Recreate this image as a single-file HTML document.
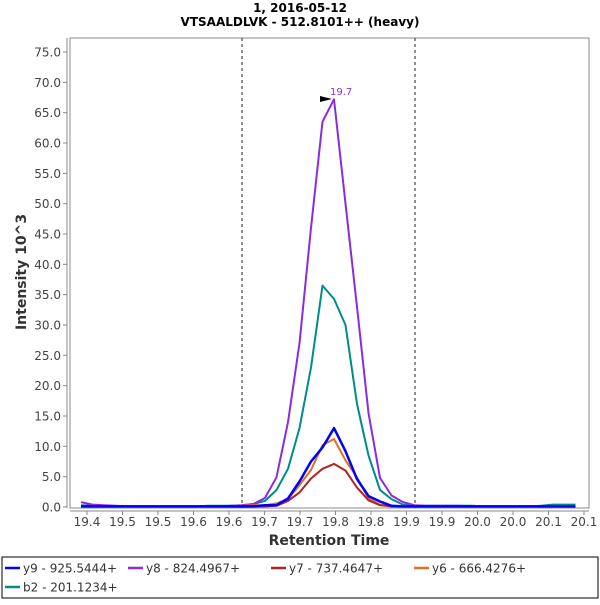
<!DOCTYPE html>
<html><head><meta charset="utf-8"><style>
body{margin:0;background:#fff;font-family:"Liberation Sans","DejaVu Sans",sans-serif;}
svg text{font-family:"DejaVu Sans","Liberation Sans",sans-serif;}
</style></head><body>
<svg id="chart" width="600" height="600" xmlns="http://www.w3.org/2000/svg">
<rect x="0" y="0" width="600" height="600" fill="#fff"/>
<text x="300" y="12" text-anchor="middle" font-size="12" font-weight="bold">1, 2016-05-12</text>
<text x="300" y="26" text-anchor="middle" font-size="12" font-weight="bold">VTSAALDLVK - 512.8101++ (heavy)</text>
<rect x="70" y="38" width="519" height="470" fill="#fff" stroke="#888" stroke-width="1"/>
<line x1="67" y1="38" x2="67" y2="508" stroke="#888"/>
<line x1="70" y1="511" x2="589" y2="511" stroke="#888"/>
<g id="yticks"></g><g id="xticks"></g>
<line x1="242" y1="38" x2="242" y2="508" stroke="#222" stroke-dasharray="3,3"/>
<line x1="415" y1="38" x2="415" y2="508" stroke="#222" stroke-dasharray="3,3"/>
<g id="series"></g>
<polygon points="320,96 332,99 320,102" fill="#000"/>
<text x="330" y="95" font-size="10" fill="#8a2be2">19.7</text>
<text transform="translate(26,272) rotate(-90)" text-anchor="middle" font-size="14" font-weight="bold" fill="#333">Intensity 10^3</text>
<text x="329" y="545" text-anchor="middle" font-size="14" font-weight="bold" fill="#333">Retention Time</text>
<rect x="2" y="557" width="596" height="41" fill="#fff" stroke="#000"/>
<g id="legend"></g>
</svg>
<script>
const yTicks=[0,5,10,15,20,25,30,35,40,45,50,55,60,65,70,75];
const xTickLabels=["19.4","19.5","19.5","19.6","19.6","19.7","19.7","19.8","19.8","19.9","19.9","20.0","20.0","20.1","20.1"];
const seriesNames=["y9 - 925.5444+","y8 - 824.4967+","y7 - 737.4647+","y6 - 666.4276+","b2 - 201.1234+"];
const seriesColors=["#0000ff","#8a2be2","#b22222","#e07020","#008b8b"];
const y9=[0.1,0.1,0.1,0.1,0.1,0.1,0.1,0.1,0.1,0.1,0.1,0.1,0.1,0.1,0.1,0.1,0.3,0.3,1.4,4.2,7.5,9.8,13,9.2,4.6,1.8,0.9,0.2,0.1,0.1,0.1,0.1,0.1,0.1,0.1,0.1,0.1,0.1,0.1,0.1,0.1,0.1,0.1,0.1];
const y8=[0.8,0.4,0.3,0.2,0.1,0.1,0.1,0.1,0.1,0.1,0.1,0.1,0.1,0.2,0.3,0.5,1.5,4.9,14,27,46,63.5,67.2,50,33,15.5,4.8,1.9,0.8,0.3,0.2,0.2,0.2,0.2,0.1,0.1,0.1,0.1,0.1,0.1,0.1,0.1,0.1,0.1];
const y7=[0.1,0.1,0.1,0.1,0.1,0.1,0.1,0.1,0.1,0.1,0.1,0.1,0.1,0.1,0.1,0.1,0.1,0.2,1.0,2.4,4.7,6.3,7.1,6.0,3.2,1.1,0.3,0.1,0.1,0.1,0.1,0.1,0.1,0.1,0.1,0.1,0.1,0.1,0.1,0.1,0.1,0.1,0.1,0.1];
const y6=[0.1,0.1,0.1,0.1,0.1,0.1,0.1,0.1,0.1,0.1,0.1,0.1,0.1,0.1,0.2,0.3,0.3,0.6,1.3,3.6,6.1,10.2,11.2,7.7,4.9,1.4,0.4,0.1,0.1,0.1,0.1,0.1,0.1,0.1,0.1,0.1,0.1,0.1,0.1,0.1,0.1,0.1,0.1,0.1];
const b2=[0.3,0.2,0.2,0.1,0.1,0.1,0.1,0.1,0.1,0.1,0.1,0.2,0.2,0.2,0.3,0.5,1.0,2.8,6.3,13,23,36.5,34.3,30,17,8.5,2.8,1.3,0.4,0.2,0.2,0.2,0.2,0.2,0.2,0.1,0.1,0.1,0.1,0.1,0.2,0.4,0.4,0.4];
const allSeries=[y9,y8,y7,y6,b2];
const drawOrder=[4,1,3,2,0];
const NS="http://www.w3.org/2000/svg";
function yScale(v){return 507-v*6.067;}
function xScale(i){return 81+i*11.5;}
function xTick(i){return 87+i*35.5;}
function mk(tag,attrs,parent){const e=document.createElementNS(NS,tag);for(const k in attrs)e.setAttribute(k,attrs[k]);parent.appendChild(e);return e;}
const yt=document.getElementById('yticks');
yTicks.forEach(v=>{const y=yScale(v);
 const l=mk('line',{x1:63,x2:67,y1:y,y2:y,stroke:'#888'},yt);
 
 
 const t=mk('text',{x:61,y:y+4.5,'text-anchor':'end','font-size':12,fill:'#444'},yt);
 t.textContent=v.toFixed(1);
 
 
});
const xt=document.getElementById('xticks');
xTickLabels.forEach((s,i)=>{const x=xTick(i);
 const l=mk('line',{x1:x,x2:x,y1:511,y2:515,stroke:'#888'},xt);
 
 
 const t=mk('text',{x:x,y:526,'text-anchor':'middle','font-size':12,fill:'#444'},xt);
 t.textContent=s;
 
 
});
const sg=document.getElementById('series');
drawOrder.forEach(k=>{const d=allSeries[k];
 const pts=d.map((v,i)=>xScale(i).toFixed(1)+','+yScale(v).toFixed(1)).join(' ');
 const p=mk('polyline',{points:pts,fill:'none',stroke:seriesColors[k],'stroke-width':k===0?2.5:2,'stroke-linejoin':'round'},sg);
 
 
});
const lg=document.getElementById('legend');
const lx=[5,128,271,414,5], ly=[568,568,568,568,587];
seriesNames.forEach((n,k)=>{
 const l=mk('line',{x1:lx[k],x2:lx[k]+15,y1:ly[k],y2:ly[k],stroke:seriesColors[k],'stroke-width':2.5},lg);
 
 
 const t=mk('text',{x:lx[k]+18,y:ly[k]+4.5,'font-size':12,fill:'#333'},lg);
 t.textContent=n;
 
 
});
</script>
</body></html>
